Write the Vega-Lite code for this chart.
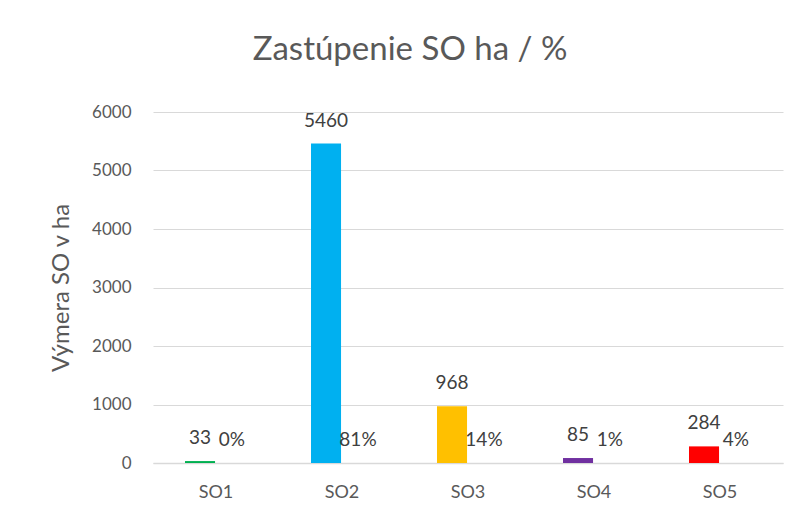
{
  "$schema": "https://vega.github.io/schema/vega-lite/v6.json",
  "autosize": "none",
  "width": 630,
  "height": 351,
  "padding": {"left": 153, "top": 112, "right": 19, "bottom": 54},
  "background": "white",
  "config": {
    "font": "Lato",
    "view": {"stroke": null}
  },
  "title": {
    "text": "Zastúpenie SO ha / %",
    "fontSize": 33,
    "fontWeight": "normal",
    "color": "#595959",
    "font": "Lato",
    "anchor": "middle",
    "dx": -58,
    "offset": 36
  },
  "data": {
    "values": [
      {"so": "SO1", "ha": 33, "pct": 0.0048},
      {"so": "SO2", "ha": 5460, "pct": 0.81},
      {"so": "SO3", "ha": 968, "pct": 0.14},
      {"so": "SO4", "ha": 85, "pct": 0.0124},
      {"so": "SO5", "ha": 284, "pct": 0.0416}
    ]
  },
  "transform": [{"fold": ["ha", "pct"], "as": ["series", "value"]}],
  "encoding": {
    "x": {
      "field": "so", "type": "nominal",
      "scale": {"paddingInner": 0.508, "paddingOuter": 0.254},
      "axis": {"title": null, "labelAngle": 0, "ticks": false, "domainColor": "#d9d9d9", "domainWidth": 1.5, "labelPadding": 20, "labelFontSize": 18, "labelColor": "#595959", "labelFont": "Lato"}
    },
    "xOffset": {"field": "series", "type": "nominal", "sort": ["ha", "pct"], "scale": {"paddingInner": 0.06, "paddingOuter": 0}},
    "y": {
      "field": "value", "type": "quantitative",
      "scale": {"domain": [0, 6000]},
      "axis": {"title": "Výmera SO v ha", "titleFontSize": 24, "titleFontWeight": "normal", "titleColor": "#595959", "titleFont": "Lato", "format": "d", "labelOverlap": false, "values": [0,1000,2000,3000,4000,5000,6000], "domain": false, "ticks": false, "gridColor": "#d9d9d9", "gridWidth": 1.2, "labelPadding": 22, "titlePadding": 18, "labelFontSize": 17, "labelColor": "#595959", "labelFont": "Lato"}
    }
  },
  "layer": [
    {
      "transform": [{"filter": "datum.series == 'ha'"}],
      "mark": {"type": "bar"},
      "encoding": {
        "color": {
          "field": "so", "type": "nominal", "legend": null,
          "scale": {"domain": ["SO1","SO2","SO3","SO4","SO5"], "range": ["#00B050","#00B0F0","#FFC000","#7030A0","#FF0000"]}
        }
      }
    },
    {
      "transform": [{"filter": "datum.series == 'ha'"}],
      "mark": {"type": "text", "baseline": "alphabetic", "dy": -17, "fontSize": 19, "color": "#404040", "font": "Lato"},
      "encoding": {"text": {"field": "value", "type": "quantitative", "format": "d"}}
    },
    {
      "transform": [{"filter": "datum.series == 'pct'"}],
      "mark": {"type": "text", "baseline": "alphabetic", "dy": -17, "fontSize": 19, "color": "#404040", "font": "Lato"},
      "encoding": {"text": {"field": "value", "type": "quantitative", "format": ".0%"}}
    }
  ]
}
